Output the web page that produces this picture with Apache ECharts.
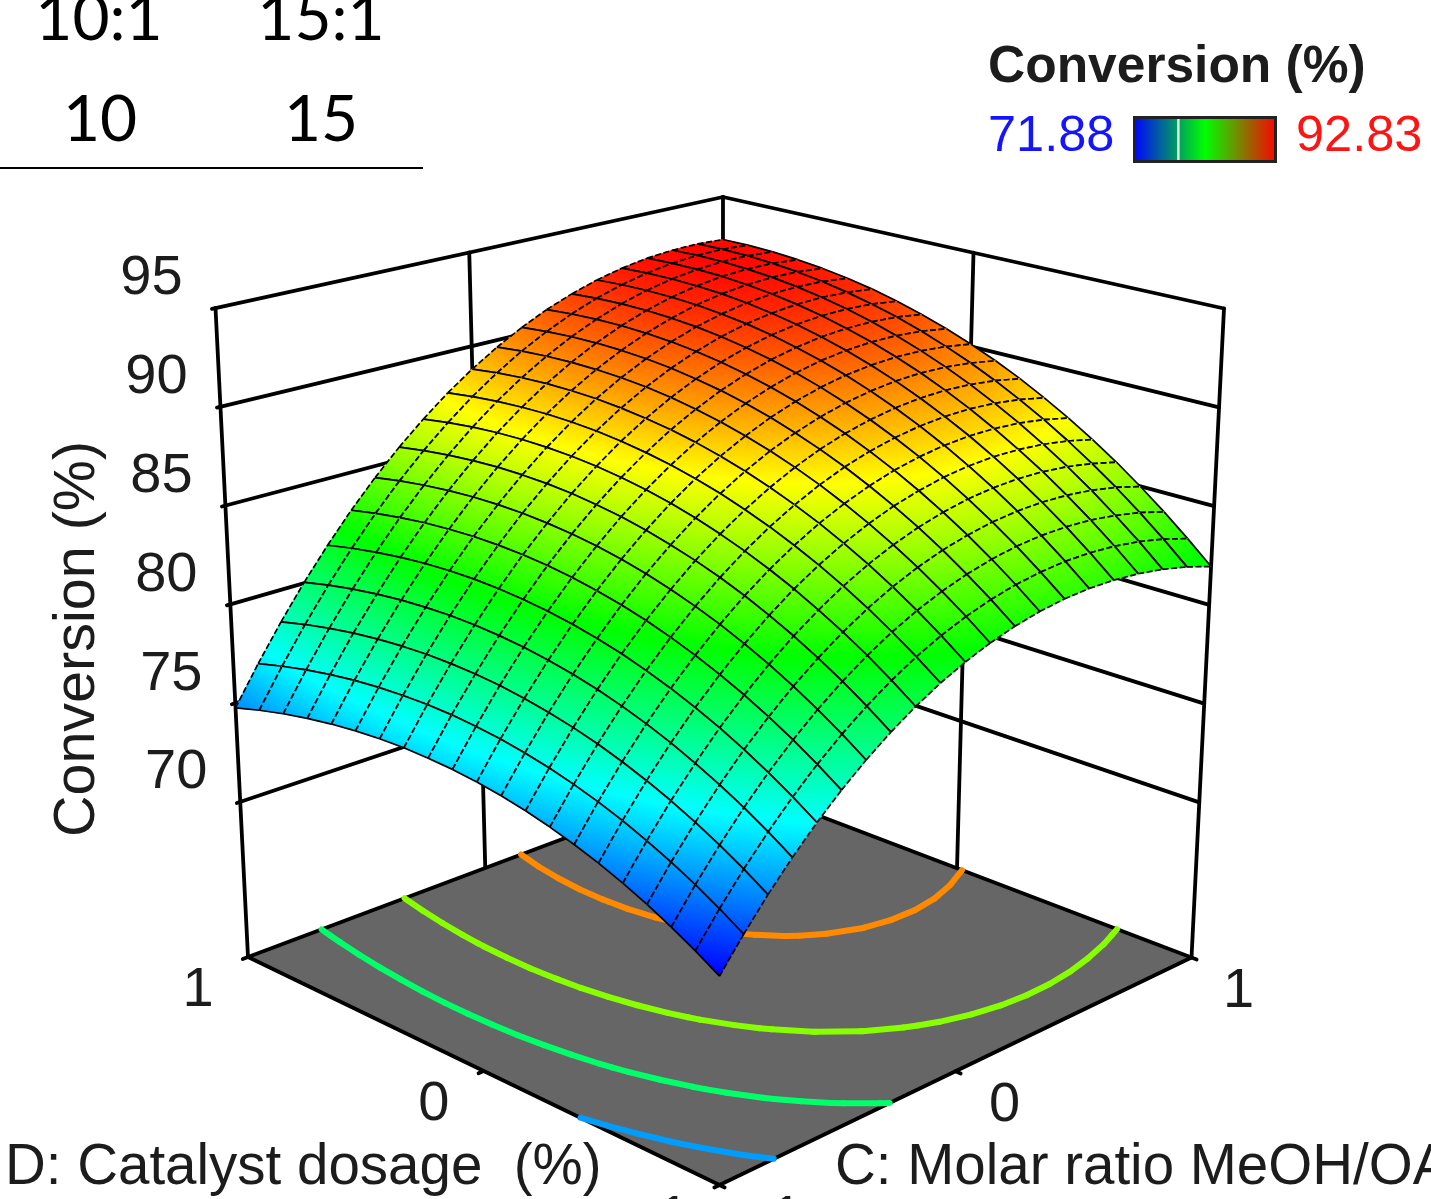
<!DOCTYPE html>
<html><head><meta charset="utf-8">
<style>html,body{margin:0;padding:0;background:#fff}#c{width:1431px;height:1199px}</style>
<script src="https://cdn.jsdelivr.net/npm/echarts@6/dist/echarts.min.js"></script>
</head><body><div id="c"></div>
<script>
// ---- data ----
const axisC = [-1,-0.9,-0.8,-0.7,-0.6,-0.5,-0.4,-0.3,-0.2,-0.1,0,0.1,0.2,0.3,0.4,0.5,0.6,0.7,0.8,0.9,1];
const axisD = [-1,-0.9,-0.8,-0.7,-0.6,-0.5,-0.4,-0.3,-0.2,-0.1,0,0.1,0.2,0.3,0.4,0.5,0.6,0.7,0.8,0.9,1];
// conversion: one row per D value, one column per C value
const conversion = [
[71.88,73.35,74.72,75.99,77.16,78.22,79.18,80.04,80.80,81.46,82.01,82.46,82.81,83.06,83.21,83.25,83.19,83.03,82.77,82.41,81.94],
[72.57,74.06,75.45,76.73,77.92,79.00,79.98,80.86,81.64,82.32,82.89,83.36,83.73,84.00,84.16,84.23,84.19,84.05,83.81,83.46,83.01],
[73.19,74.71,76.11,77.42,78.63,79.73,80.73,81.63,82.43,83.12,83.71,84.20,84.59,84.88,85.07,85.15,85.13,85.01,84.78,84.46,84.03],
[73.77,75.30,76.72,78.05,79.28,80.40,81.42,82.34,83.15,83.87,84.48,84.99,85.40,85.70,85.91,86.01,86.01,85.91,85.71,85.40,84.99],
[74.28,75.83,77.28,78.62,79.87,81.01,82.05,82.99,83.82,84.56,85.19,85.72,86.15,86.47,86.70,86.82,86.84,86.76,86.57,86.28,85.90],
[74.74,76.31,77.77,79.14,80.40,81.56,82.62,83.58,84.44,85.19,85.84,86.39,86.84,87.18,87.43,87.57,87.61,87.54,87.38,87.11,86.74],
[75.14,76.73,78.21,79.60,80.88,82.06,83.14,84.12,84.99,85.76,86.44,87.00,87.47,87.84,88.10,88.26,88.32,88.27,88.13,87.88,87.53],
[75.48,77.09,78.60,80.00,81.30,82.50,83.60,84.60,85.49,86.28,86.97,87.56,88.05,88.43,88.71,88.89,88.97,88.95,88.82,88.59,88.26],
[75.77,77.40,78.92,80.35,81.67,82.89,84.00,85.02,85.93,86.74,87.45,88.06,88.57,88.97,89.27,89.47,89.57,89.57,89.46,89.25,88.94],
[76.00,77.64,79.19,80.63,81.97,83.21,84.35,85.38,86.32,87.15,87.88,88.51,89.03,89.45,89.77,89.99,90.11,90.13,90.04,89.85,89.56],
[76.17,77.84,79.40,80.86,82.22,83.48,84.64,85.69,86.65,87.50,88.25,88.89,89.44,89.88,90.22,90.46,90.59,90.63,90.56,90.39,90.12],
[76.29,77.97,79.56,81.04,82.42,83.70,84.87,85.95,86.92,87.79,88.56,89.22,89.79,90.25,90.61,90.87,91.02,91.08,91.03,90.88,90.62],
[76.34,78.05,79.65,81.15,82.55,83.85,85.05,86.14,87.13,88.02,88.81,89.49,90.08,90.56,90.94,91.21,91.39,91.46,91.44,91.31,91.07],
[76.35,78.07,79.69,81.21,82.63,83.95,85.16,86.28,87.29,88.20,89.00,89.71,90.31,90.81,91.21,91.51,91.70,91.80,91.79,91.68,91.46],
[76.29,78.03,79.68,81.22,82.66,83.99,85.23,86.36,87.39,88.32,89.14,89.87,90.49,91.01,91.43,91.75,91.96,92.07,92.08,91.99,91.80],
[76.18,77.94,79.60,81.16,82.62,83.98,85.23,86.38,87.43,88.38,89.23,89.97,90.61,91.15,91.59,91.92,92.16,92.29,92.32,92.25,92.07],
[76.01,77.79,79.47,81.05,82.53,83.90,85.18,86.35,87.42,88.39,89.25,90.01,90.67,91.23,91.69,92.05,92.30,92.45,92.50,92.45,92.29],
[75.78,77.58,79.29,80.88,82.38,83.78,85.07,86.26,87.35,88.33,89.22,90.00,90.68,91.26,91.74,92.11,92.38,92.56,92.62,92.59,92.45],
[75.50,77.32,79.04,80.66,82.17,83.59,84.90,86.11,87.22,88.23,89.13,89.93,90.63,91.23,91.73,92.12,92.41,92.60,92.69,92.68,92.56],
[75.16,77.00,78.74,80.38,81.91,83.35,84.68,85.91,87.03,88.06,88.98,89.81,90.52,91.14,91.66,92.07,92.38,92.59,92.70,92.71,92.61],
[74.76,76.62,78.38,80.04,81.59,83.05,84.40,85.65,86.79,87.84,88.78,89.62,90.36,91.00,91.53,91.97,92.30,92.53,92.65,92.68,92.60]
];
const zTicks = [70,75,80,85,90,95];
const dTickLabels = [1,0,-1];
const cTickLabels = [1,0,-1];
const contourLevels = [75.1,80.2,85.15,90.0];
const zMin = 62.15, zMax = 95;
const legendMin = 71.88, legendMax = 92.83, legendMark = 78.4;
const surfaceColors = ['#0000ff','#00ffff','#00ff00','#ffff00','#ff0000'];
const legendColors = ['#0000ff','#00ff00','#ff0000'];
const yTitle = 'Conversion (%)', legendTitle = 'Conversion (%)';
const dName = 'D: Catalyst dosage  (%)', cName = 'C: Molar ratio MeOH/OA';
const tableRow1 = ['10:1','15:1'], tableRow2 = ['10','15'];

// ---- view geometry (pixel positions of the plot box corners) ----
const floorBox = {F:[719.5,1185],R:[1191.5,957.5],L:[248,957],B:[722.5,779]};
const topBox   = {F:[719.5,480], R:[1224,308.5],  L:[215.5,308],B:[723,197]};
const dLabelOffset = [[-50,34],[-50,34],[-55,34]];
const cLabelOffset = [[47,34],[49,34],[58,34]];
function bil(box,s,t,k){return box.F[k]*(1-s)*(1-t)+box.R[k]*s*(1-t)+box.L[k]*(1-s)*t+box.B[k]*s*t;}
function project(u,v,z){
  const s=(u+1)/2,t=(v+1)/2,w=(z-zMin)/(zMax-zMin);
  return [bil(floorBox,s,t,0)*(1-w)+bil(topBox,s,t,0)*w, bil(floorBox,s,t,1)*(1-w)+bil(topBox,s,t,1)*w];
}
function colorAt(z){
  const t=Math.max(0,Math.min(1,(z-legendMin)/(legendMax-legendMin)));
  return echarts.color.lerp(t,surfaceColors);
}
const FONT='"Liberation Sans", Arial, sans-serif';
const TABLE='64px Lato, sans-serif';
const INK='#1c1c1c';

// ---- marks built from the data ----
const cells=[];
for(let j=axisD.length-2;j>=0;j--)for(let i=axisC.length-2;i>=0;i--)cells.push([i,j]);

const frameLines=[];
zTicks.forEach(z=>{
  frameLines.push([-1.014,1,z,1,1,z]);
  frameLines.push([1,1,z,1,-1,z]);
});
[[-1,1],[0,1],[1,1],[1,0],[1,-1]].forEach(p=>frameLines.push([p[0],p[1],zMin,p[0],p[1],zMax]));

const floorTicks=[];
dTickLabels.forEach(v=>floorTicks.push([-1,v,-1.022,v]));
cTickLabels.forEach(u=>floorTicks.push([u,-1,u,-1.022]));

const contourSegs=[];
contourLevels.forEach(level=>{
  for(let j=0;j<axisD.length-1;j++)for(let i=0;i<axisC.length-1;i++){
    const c=[[i,j],[i+1,j],[i+1,j+1],[i,j+1]],pts=[];
    for(let k=0;k<4;k++){
      const a=c[k],b=c[(k+1)%4],za=conversion[a[1]][a[0]],zb=conversion[b[1]][b[0]];
      if((za<level)!==(zb<level)){
        const f=(level-za)/(zb-za);
        pts.push([axisC[a[0]]+(axisC[b[0]]-axisC[a[0]])*f,axisD[a[1]]+(axisD[b[1]]-axisD[a[1]])*f]);
      }
    }
    if(pts.length===2&&!(level<76&&pts[0][1]>0.5))contourSegs.push([pts[0][0],pts[0][1],pts[1][0],pts[1][1],level]);
  }
});

function gradientFor(P,Z){
  // plane fit over the cell so the colour follows the height continuously
  const d1=[P[2][0]-P[0][0],P[2][1]-P[0][1]],d2=[P[3][0]-P[1][0],P[3][1]-P[1][1]];
  const z1=Z[2]-Z[0],z2=Z[3]-Z[1],det=d1[0]*d2[1]-d1[1]*d2[0];
  const lo=Math.min.apply(null,Z),hi=Math.max.apply(null,Z),zc=(Z[0]+Z[1]+Z[2]+Z[3])/4;
  if(Math.abs(det)<1e-6||hi-lo<1e-3)return colorAt(zc);
  const a=(z1*d2[1]-z2*d1[1])/det,b=(d1[0]*z2-d2[0]*z1)/det,n=a*a+b*b;
  if(n<1e-9)return colorAt(zc);
  const cx=(P[0][0]+P[1][0]+P[2][0]+P[3][0])/4,cy=(P[0][1]+P[1][1]+P[2][1]+P[3][1])/4;
  const stops=[{offset:0,color:colorAt(lo)}];
  for(let k=1;k<surfaceColors.length-1;k++){
    const zk=legendMin+(legendMax-legendMin)*k/(surfaceColors.length-1);
    if(zk>lo&&zk<hi)stops.push({offset:(zk-lo)/(hi-lo),color:colorAt(zk)});
  }
  stops.push({offset:1,color:colorAt(hi)});
  return {type:'linear',global:true,x:cx+a/n*(lo-zc),y:cy+b/n*(lo-zc),x2:cx+a/n*(hi-zc),y2:cy+b/n*(hi-zc),colorStops:stops};
}

const chart=echarts.init(document.getElementById('c'),null,{renderer:'canvas'});
function pt(api,u,v,z){return api.coord(project(u,v,z));}
function base(extra){return Object.assign({type:'custom',coordinateSystem:'cartesian2d',clip:false,silent:true,animation:false,progressive:0,encode:{x:[],y:[]}},extra);}
const tableText=(x,y,text)=>({type:'text',x:x,y:y,style:{text:text,font:TABLE,fill:'#000',align:'center',verticalAlign:'middle'}});
const markX=1134.5+141*(legendMark-legendMin)/(legendMax-legendMin);

chart.setOption({
  animation:false,
  grid:{left:0,right:0,top:0,bottom:0},
  xAxis:{type:'value',min:0,max:1431,show:false},
  yAxis:{type:'value',min:0,max:1199,inverse:true,show:false},
  graphic:[
    tableText(99,19,tableRow1[0]),tableText(321,19,tableRow1[1]),
    tableText(100,120,tableRow2[0]),tableText(321,120,tableRow2[1]),
    {type:'line',shape:{x1:0,y1:168,x2:423,y2:168},style:{stroke:'#000',lineWidth:2}},
    {type:'text',x:988,y:68,style:{text:legendTitle,font:'bold 51.5px '+FONT,fill:INK,align:'left',verticalAlign:'middle'}},
    {type:'text',x:988,y:137,style:{text:legendMin.toFixed(2),font:'50.5px '+FONT,fill:'#1414ff',align:'left',verticalAlign:'middle'}},
    {type:'text',x:1296,y:137,style:{text:legendMax.toFixed(2),font:'50.5px '+FONT,fill:'#ff1414',align:'left',verticalAlign:'middle'}},
    {type:'rect',shape:{x:1134.5,y:117.5,width:141,height:44},style:{fill:new echarts.graphic.LinearGradient(0,0,1,0,legendColors.map((c,i)=>({offset:i/(legendColors.length-1),color:c}))),stroke:'#222',lineWidth:3}},
    {type:'line',shape:{x1:markX,y1:119,x2:markX,y2:160},style:{stroke:'#dfe8df',lineWidth:2.5}},
    {type:'text',x:78,y:639,rotation:Math.PI/2,style:{text:yTitle,font:'57.5px '+FONT,fill:INK,align:'center',verticalAlign:'middle'}},
    {type:'text',x:5,y:1168,style:{text:dName,font:'56.5px '+FONT,fill:INK,align:'left',verticalAlign:'middle'}},
    {type:'text',x:835,y:1168,style:{text:cName,font:'56.5px '+FONT,fill:INK,align:'left',verticalAlign:'middle'}}
  ],
  series:[
    // z tick labels
    base({data:zTicks.map(z=>[z]),renderItem(p,api){
      const z=api.value(0),c=pt(api,-1,1,z);
      return {type:'text',x:c[0]-64,y:c[1]-29,style:{text:String(z),font:'56px '+FONT,fill:INK,align:'center',verticalAlign:'middle'}};
    }}),
    // floor axis labels, D side
    base({data:dTickLabels.map(v=>[v]),renderItem(p,api){
      const v=api.value(0),c=pt(api,-1,v,zMin),o=dLabelOffset[p.dataIndex];
      return {type:'text',x:c[0]+o[0],y:c[1]+o[1],style:{text:String(v),font:'56px '+FONT,fill:INK,align:'center',verticalAlign:'middle'}};
    }}),
    // floor axis labels, C side
    base({data:cTickLabels.map(u=>[u]),renderItem(p,api){
      const u=api.value(0),c=pt(api,u,-1,zMin),o=cLabelOffset[p.dataIndex];
      return {type:'text',x:c[0]+o[0],y:c[1]+o[1],style:{text:String(u),font:'56px '+FONT,fill:INK,align:'center',verticalAlign:'middle'}};
    }}),
    // walls
    base({data:frameLines,renderItem(p,api){
      const a=pt(api,api.value(0),api.value(1),api.value(2)),b=pt(api,api.value(3),api.value(4),api.value(5));
      return {type:'line',shape:{x1:a[0],y1:a[1],x2:b[0],y2:b[1]},style:{stroke:'#000',lineWidth:3.8,lineCap:'round'}};
    }}),
    // floor
    base({data:[[zMin]],renderItem(p,api){
      const z=api.value(0),q=[[-1,-1],[1,-1],[1,1],[-1,1]].map(c=>pt(api,c[0],c[1],z));
      return {type:'polygon',shape:{points:q},style:{fill:'#666666',stroke:'#000',lineWidth:3.8,lineJoin:'round'}};
    }}),
    // floor tick stubs
    base({data:floorTicks,renderItem(p,api){
      const a=pt(api,api.value(0),api.value(1),zMin),b=pt(api,api.value(2),api.value(3),zMin);
      return {type:'line',shape:{x1:a[0],y1:a[1],x2:b[0],y2:b[1]},style:{stroke:'#000',lineWidth:3.8,lineCap:'round'}};
    }}),
    // contours on the floor
    base({data:contourSegs,renderItem(p,api){
      const a=pt(api,api.value(0),api.value(1),zMin),b=pt(api,api.value(2),api.value(3),zMin);
      return {type:'line',shape:{x1:a[0],y1:a[1],x2:b[0],y2:b[1]},style:{stroke:colorAt(api.value(4)),lineWidth:6,lineCap:'round'}};
    }}),
    // surface, back to front
    base({data:cells,renderItem(p,api){
      const i=api.value(0),j=api.value(1);
      const idx=[[i,j],[i+1,j],[i+1,j+1],[i,j+1]];
      const Z=idx.map(c=>conversion[c[1]][c[0]]);
      const P=idx.map((c,k)=>pt(api,axisC[c[0]],axisD[c[1]],Z[k]));
      const g=gradientFor(P,Z);
      const solid={stroke:'#000',lineWidth:1.7};
      const dashed={stroke:'#000',lineWidth:1.7,lineDash:[6,2.5]};
      const ln=(a,b,s)=>({type:'line',shape:{x1:a[0],y1:a[1],x2:b[0],y2:b[1]},style:s});
      return {type:'group',children:[
        {type:'polygon',shape:{points:P},style:{fill:g,stroke:g,lineWidth:0.8}},
        ln(P[0],P[1],dashed),ln(P[3],P[2],dashed),
        ln(P[0],P[3],solid),ln(P[1],P[2],solid)
      ]};
    }})
  ]
});
</script></body></html>
